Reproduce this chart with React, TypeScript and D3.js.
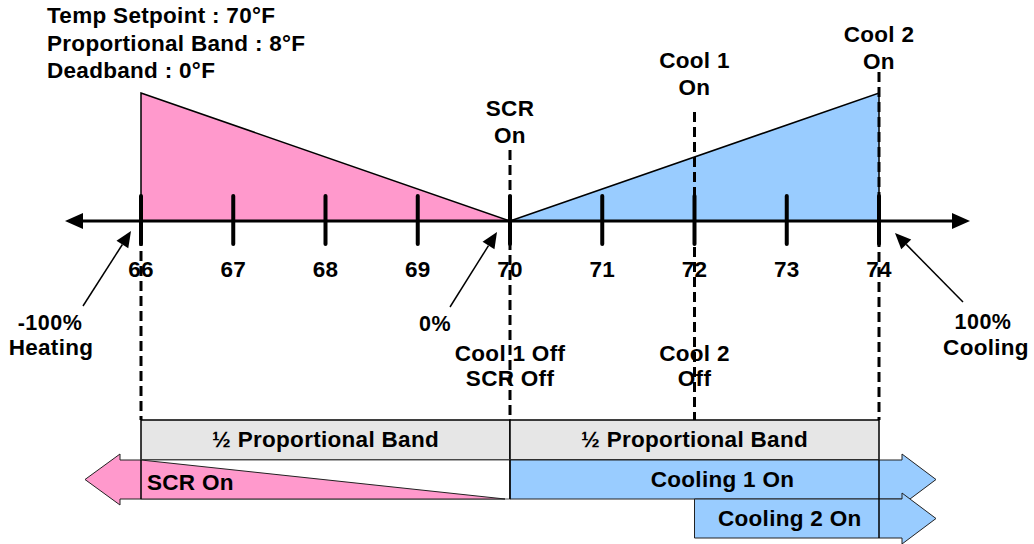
import React from "react";
import * as d3 from "d3";

// ---- data ----
const tickValues = [66, 67, 68, 69, 70, 71, 72, 73, 74];
const heatingRamp = [
  { t: 66, pct: 100 },
  { t: 70, pct: 0 },
];
const coolingRamp = [
  { t: 70, pct: 0 },
  { t: 74, pct: 100 },
];
const headerLines = ["Temp Setpoint : 70°F", "Proportional Band : 8°F", "Deadband : 0°F"];
const stageOnTemps = [70, 72, 74];
const stageOnLabels = [["SCR", "On"], ["Cool 1", "On"], ["Cool 2", "On"]];
const stageOffTemps = [70, 72];
const stageOffLabels = [["Cool 1 Off", "SCR Off"], ["Cool 2", "Off"]];
const bandRanges = [
  [66, 70],
  [70, 74],
];
const bandLabel = "½ Proportional Band";
const outputLabels = { heat: ["-100%", "Heating"], zero: ["0%"], cool: ["100%", "Cooling"] };

const PINK = "#FF99CC";
const BLUE = "#99CCFF";
const GRAY = "#E6E6E6";
const FONT = "'Liberation Sans', Arial, sans-serif";

export default function App() {
  const W = 1034;
  const H = 544;
  const x = d3.scaleLinear().domain([66, 74]).range([141, 879]);
  const y = d3.scaleLinear().domain([0, 100]).range([221, 93]);
  const axisY = y(0);

  const area = d3
    .area<{ t: number; pct: number }>()
    .x((d) => x(d.t))
    .y0(axisY)
    .y1((d) => y(d.pct));

  const textStyle: React.CSSProperties = {
    fontFamily: FONT,
    fontWeight: "bold",
    fontSize: 22.5,
    letterSpacing: 0.3,
  };
  const pctStyle: React.CSSProperties = { ...textStyle, fontSize: 21.5, letterSpacing: 0.5 };

  const dashTop: Record<number, number> = { 70: 150, 72: 112, 74: 72 };
  const onTextY: Record<number, number> = { 70: 116, 72: 68, 74: 42 };

  const rowBandTop = 420;
  const row1Top = 460;
  const row2Top = 499;
  const row2Bot = 538;
  const headLen = 34;
  const headOver = 6;

  const annot = (x1: number, y1: number, x2: number, y2: number, key: string) => {
    const ang = Math.atan2(y2 - y1, x2 - x1);
    const L = 16;
    const Wd = 7;
    const bx = x2 - L * Math.cos(ang);
    const by = y2 - L * Math.sin(ang);
    const px = -Math.sin(ang) * Wd;
    const py = Math.cos(ang) * Wd;
    return (
      <g key={key}>
        <line x1={x1} y1={y1} x2={bx} y2={by} stroke="#000" strokeWidth={1.5} />
        <polygon points={`${x2},${y2} ${bx + px},${by + py} ${bx - px},${by - py}`} fill="#000" />
      </g>
    );
  };

  const x66 = x(66);
  const x70 = x(70);
  const x72 = x(72);
  const x74 = x(74);

  const scrArrow = [
    [85, (row1Top + row2Top) / 2],
    [85 + headLen + 1, row1Top - headOver],
    [85 + headLen + 1, row1Top],
    [x66, row1Top],
    [x70 - 5, row2Top],
    [85 + headLen + 1, row2Top],
    [85 + headLen + 1, row2Top + headOver],
  ];

  const coolArrow = (x0: number, top: number, bot: number) => {
    const xb = x74 + 23;
    const mid = (top + bot) / 2;
    return [
      [x0, top],
      [xb, top],
      [xb, top - headOver],
      [xb + headLen, mid],
      [xb, bot + headOver],
      [xb, bot],
      [x0, bot],
    ];
  };

  const dash = { stroke: "#000", strokeWidth: 3, strokeDasharray: "10,5" };

  return (
    <svg width={W} height={H} style={{ position: "absolute", left: 0, top: 0, background: "#fff" }}>
      {headerLines.map((s, i) => (
        <text key={s} x={47} y={23 + i * 27.5} style={textStyle}>
          {s}
        </text>
      ))}

      <path d={area(heatingRamp) ?? ""} fill={PINK} stroke="#000" strokeWidth={1.5} />
      <path d={area(coolingRamp) ?? ""} fill={BLUE} stroke="#000" strokeWidth={1.5} />

      <line x1={x66} y1={axisY} x2={x66} y2={rowBandTop} {...dash} />
      {stageOnTemps.map((t) => (
        <line key={"d" + t} x1={x(t)} y1={dashTop[t]} x2={x(t)} y2={rowBandTop} {...dash} />
      ))}

      <line x1={80} y1={axisY} x2={955} y2={axisY} stroke="#000" strokeWidth={3} />
      <polygon points={`65,${axisY} 83,${axisY - 8} 83,${axisY + 8}`} fill="#000" />
      <polygon points={`970,${axisY} 952,${axisY - 8} 952,${axisY + 8}`} fill="#000" />
      {tickValues.map((t) => (
        <g key={t}>
          <line x1={x(t)} y1={axisY - 25} x2={x(t)} y2={axisY + 23} stroke="#000" strokeWidth={4} strokeLinecap="round" />
          <text x={x(t)} y={277} textAnchor="middle" style={textStyle}>
            {t}
          </text>
        </g>
      ))}

      {stageOnTemps.map((t, i) => (
        <g key={"on" + t}>
          <text x={x(t)} y={onTextY[t]} textAnchor="middle" style={textStyle}>
            {stageOnLabels[i][0]}
          </text>
          <text x={x(t)} y={onTextY[t] + 27} textAnchor="middle" style={textStyle}>
            {stageOnLabels[i][1]}
          </text>
        </g>
      ))}
      {stageOffTemps.map((t, i) => (
        <g key={"off" + t}>
          <text x={x(t)} y={361} textAnchor="middle" style={textStyle}>
            {stageOffLabels[i][0]}
          </text>
          <text x={x(t)} y={386} textAnchor="middle" style={textStyle}>
            {stageOffLabels[i][1]}
          </text>
        </g>
      ))}

      <text x={50} y={330} textAnchor="middle" style={pctStyle}>{outputLabels.heat[0]}</text>
      <text x={51} y={355} textAnchor="middle" style={textStyle}>{outputLabels.heat[1]}</text>
      <text x={435} y={331} textAnchor="middle" style={pctStyle}>{outputLabels.zero[0]}</text>
      <text x={983} y={329} textAnchor="middle" style={pctStyle}>{outputLabels.cool[0]}</text>
      <text x={986} y={355} textAnchor="middle" style={textStyle}>{outputLabels.cool[1]}</text>
      {annot(83, 306, 131, 231, "a1")}
      {annot(450, 307, 497, 232, "a2")}
      {annot(963, 302, 895, 233, "a3")}

      {bandRanges.map(([a, b]) => (
        <g key={"band" + a}>
          <rect x={x(a)} y={rowBandTop} width={x(b) - x(a)} height={row1Top - rowBandTop} fill={GRAY} stroke="#000" strokeWidth={1.5} />
          <text x={(x(a) + x(b)) / 2} y={447} textAnchor="middle" style={textStyle}>
            {bandLabel}
          </text>
        </g>
      ))}

      <rect x={x66} y={row1Top} width={x70 - x66} height={row2Top - row1Top} fill="#fff" stroke="#555" strokeWidth={1} />
      <polygon points={scrArrow.map((p) => p.join(",")).join(" ")} fill={PINK} stroke="#222" strokeWidth={1} />
      <line x1={x66} y1={row1Top} x2={x66} y2={row2Top} stroke="#000" strokeWidth={1.5} />
      <text x={147} y={490} style={textStyle}>SCR On</text>

      <polygon points={coolArrow(x70, row1Top, row2Top).map((p) => p.join(",")).join(" ")} fill={BLUE} stroke="#222" strokeWidth={1} />
      <polygon points={coolArrow(x72, row2Top, row2Bot).map((p) => p.join(",")).join(" ")} fill={BLUE} stroke="#222" strokeWidth={1} />
      <line x1={x70} y1={row1Top} x2={x70} y2={row2Top} stroke="#000" strokeWidth={1.5} />
      <line x1={x74} y1={row1Top} x2={x74} y2={row2Bot} stroke="#000" strokeWidth={1.5} />
      <text x={(x70 + x74) / 2 + 28} y={487} textAnchor="middle" style={textStyle}>Cooling 1 On</text>
      <text x={(x72 + x74) / 2 + 3} y={526} textAnchor="middle" style={textStyle}>Cooling 2 On</text>
    </svg>
  );
}
